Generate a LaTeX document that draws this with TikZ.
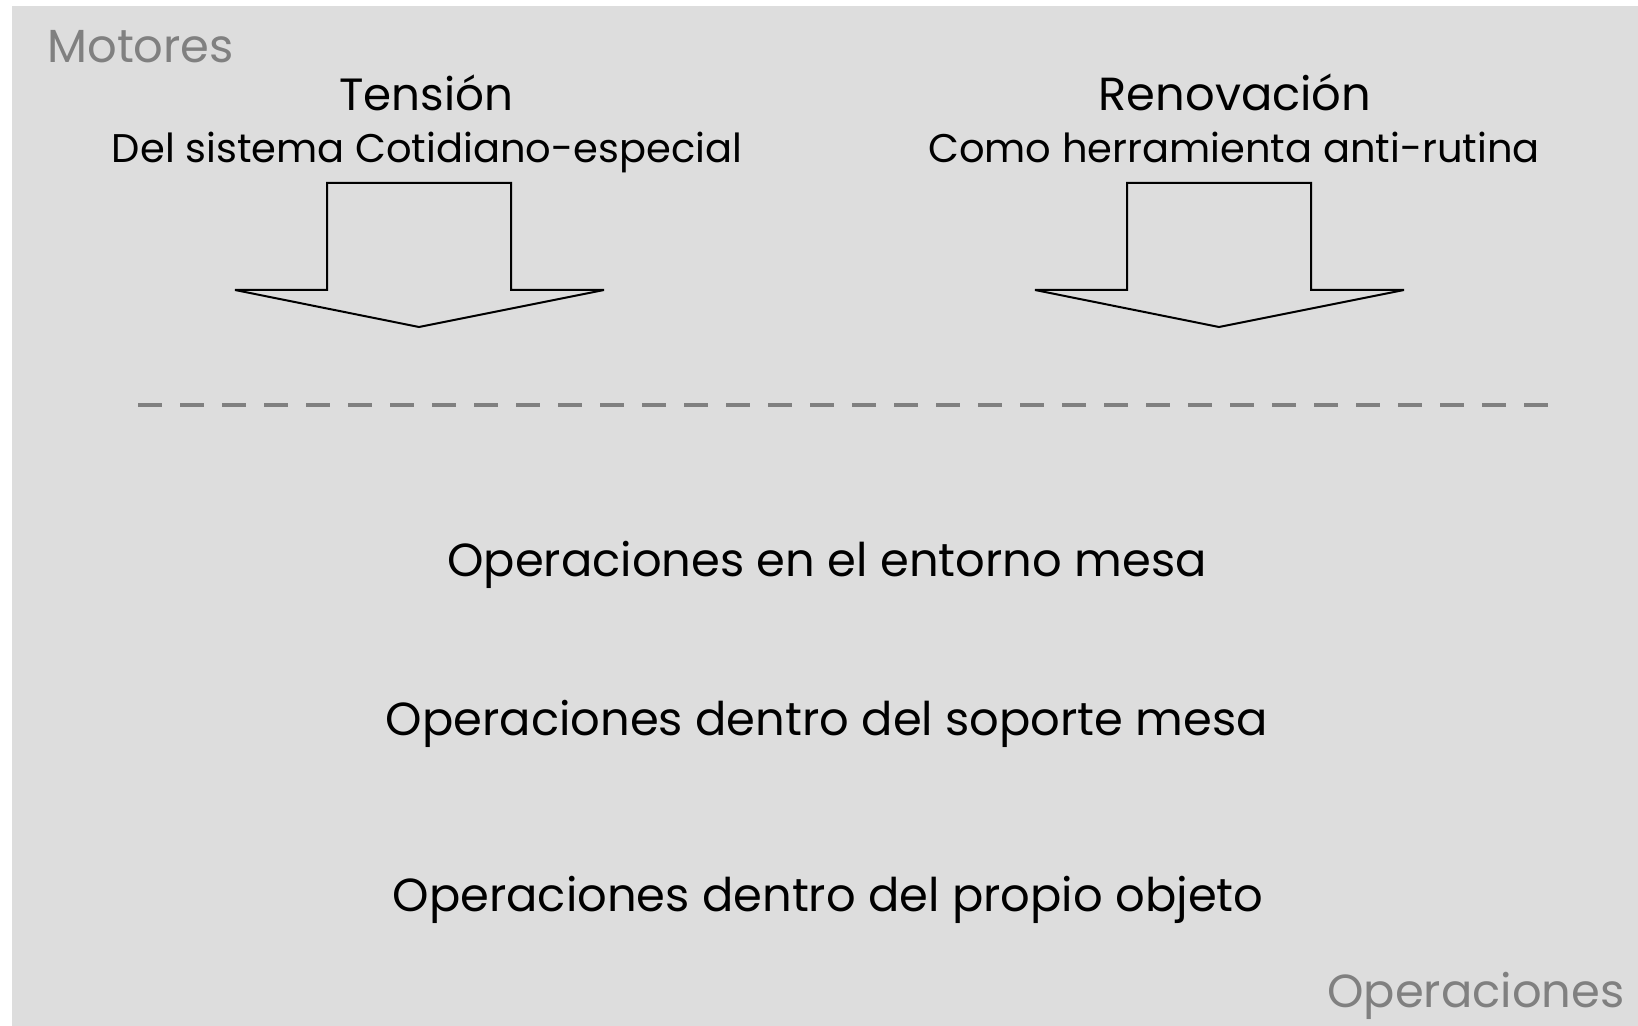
\documentclass[tikz,border=0pt]{standalone}
\usepackage{fontspec}
\setmainfont{Poppins}
\usetikzlibrary{positioning,calc}
\definecolor{fondo}{HTML}{DDDDDD}
\definecolor{gris}{HTML}{808080}

\begin{document}
\begin{tikzpicture}[x=0.5pt, y=-0.5pt,
  titulo/.style={font=\fontsize{23.2}{28}\selectfont, inner sep=0pt, anchor=base},
  subtitulo/.style={font=\fontsize{20}{24}\selectfont, inner sep=0pt, anchor=base},
  etiqueta/.style={font=\fontsize{23.2}{28}\selectfont, inner sep=0pt, anchor=base, text=gris},
  flecha/.style={draw=black, line width=1pt, line join=miter}]
% 背景
\useasboundingbox (0,0) rectangle (1638,1026);
\fill[fondo] (12,6) rectangle (1638,1026);

% 标签
\node[etiqueta, anchor=base west] (motores) at (47,63) {Motores};
\node[etiqueta, anchor=base east] (operaciones) at (1625,1007) {Operaciones};

% 动力
\node[titulo, font=\fontsize{22.6}{28}\selectfont] (tension) at (426,111) {Tensión};
\node[subtitulo] (sistema) at (427,163) {Del sistema Cotidiano-especial};
\node[titulo] (renovacion) at (1235,111) {Renovación};
\node[subtitulo] (rutina) at (1234,163) {Como herramienta anti-rutina};

% 箭头
\coordinate (flechaA) at (419,183);
\coordinate (flechaB) at (1219,183);
\foreach \f in {flechaA, flechaB}
  \draw[flecha] ($(\f)+(-92,0)$) -- ++(0,107) -- ++(-92,0) -- ($(\f)+(0,144)$)
    -- ($(\f)+(185,107)$) -- ++(-93,0) -- ++(0,-107) -- cycle;

% 分隔线
\coordinate (lineaA) at (138,405);
\coordinate (lineaB) at (1550,405);
\draw[gris, line width=1.75pt, dash pattern=on 12pt off 9pt] (lineaA) -- (lineaB);

% 操作
\node[titulo] (entorno) at (827,576) {Operaciones en el entorno mesa};
\node[titulo] (soporte) at (827,735) {Operaciones dentro del soporte mesa};
\node[titulo] (objeto) at (828,911) {Operaciones dentro del propio objeto};
\end{tikzpicture}
\end{document}
